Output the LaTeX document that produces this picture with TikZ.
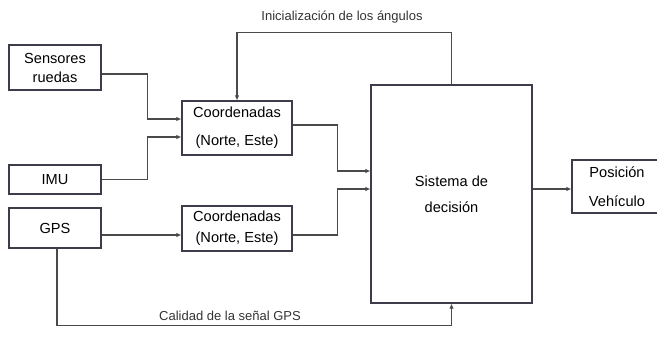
\documentclass[tikz,border=0pt]{standalone}
\usepackage{fontspec}
\setmainfont{Liberation Sans}
\usetikzlibrary{arrows.meta}

\definecolor{boxline}{HTML}{3C3C4A}
\definecolor{wireline}{HTML}{4A4A4A}

\tikzset{
	blk/.style={draw=boxline, line width=1.2pt, fill=white, inner sep=0pt, align=center,
		font=\fontsize{14.6}{19}\selectfont},
	arr/.style={draw=wireline, line width=1.1pt, -{Latex[length=5pt,width=4.5pt]}},
	lbl/.style={inner sep=0pt, text=black!80, font=\fontsize{13}{15}\selectfont}
}

\begin{document}
\begin{tikzpicture}[x=1pt, y=-1pt]
		\clip (0, 0) rectangle (657, 338);
		
		% Blocks
		% Sensors
		\node[blk, minimum width=92pt, minimum height=45pt] (sens) at (55, 67.5) {Sensores\\ruedas};
		\node[blk, minimum width=92pt, minimum height=29pt] (imu) at (55, 179.5) {IMU};
		\node[blk, minimum width=92pt, minimum height=40pt] (gps) at (55, 228) {GPS};
		
		% Coordinates
		\node[blk, minimum width=110pt, minimum height=54pt] (coordA) at (237, 128) {Coordenadas\\[9pt](Norte, Este)};
		\node[blk, minimum width=110pt, minimum height=45pt] (coordB) at (237, 228.5) {Coordenadas\\[2pt](Norte, Este)};
		
		% Decision System
		\node[blk, minimum width=161pt, minimum height=218pt] (sis) at (451.5, 194) {Sistema de\\[7pt]decisión};
		
		% Output
		\node[blk, minimum width=90pt, minimum height=53pt] (pos) at (617, 186.5) {Posición\\[10pt]Vehículo};
		
		% Labels
		\node[lbl] (lblInit) at (342, 17) {Inicialización de los ángulos};
		\node[lbl] (lblGps) at (230, 316) {Calidad de la señal GPS};
		
		% Signals
		% Sensores ruedas
		\draw[arr] ([yshift=-6.5pt]sens.east) -- ++(46, 0) |- ([yshift=9pt]coordA.west);
		
		% IMU
		\draw[arr] (imu.east) -- ++(46, 0) |- ([yshift=-9pt]coordA.west);
		
		% GPS
		\draw[arr] ([yshift=-7pt]gps.east) -- ([yshift=-6.5pt]coordB.west);
		
		% Initial angles
		\draw[arr] (sis.north) -- ++(0, -52) -| (coordA.north);
		
		% Coordinates to decision
		\draw[arr] ([yshift=3pt]coordA.east) -- ++(45, 0) |- ([yshift=23pt]sis.west);
		\draw[arr] ([yshift=-6.5pt]coordB.east) -- ++(45, 0) |- ([yshift=5pt]sis.west);
		
		% GPS quality
		\draw[arr] ([xshift=2pt]gps.south) -- ++(0, 77) -| (sis.south);
		
		% Position
		\draw[arr] ([yshift=5pt]sis.east) -- ([yshift=-2.5pt]pos.west);
		
	\end{tikzpicture}
\end{document}
